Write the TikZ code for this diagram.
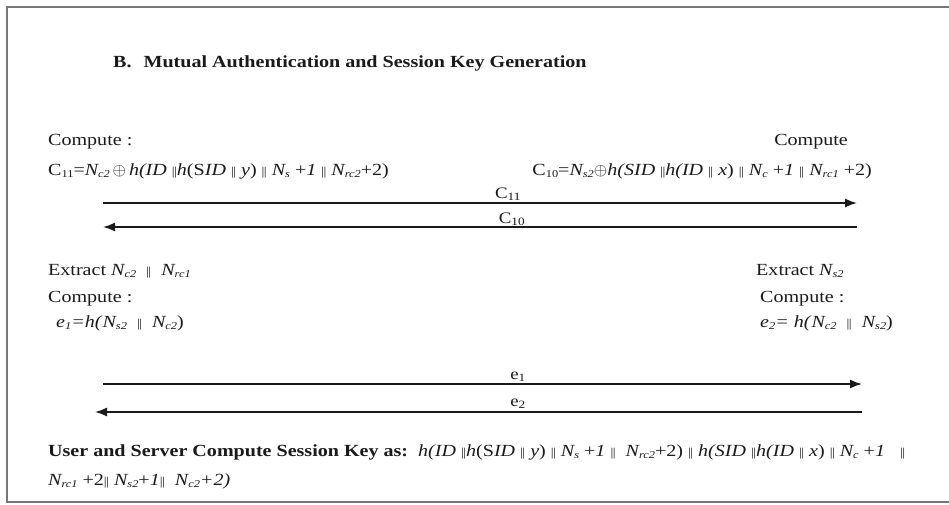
\documentclass[tikz,border=0pt]{standalone}
\usepackage{fontspec}
\setmainfont[FakeStretch=1.18]{Liberation Serif}
\usepackage{xcolor}
\usetikzlibrary{positioning,arrows.meta}

\definecolor{ink}{HTML}{1A1A1A}
\definecolor{frame}{HTML}{777777}
\newcommand{\lowx}[1]{\raisebox{-2.5pt}{\fontsize{10.5}{10.5}\selectfont #1}}
\newcommand{\Nx}[1]{\textit{N\lowx{#1}}}
\newcommand{\dbar}{{\fontsize{12}{12}\selectfont\textbar\kern-0.6pt\textbar}}

\begin{document}
\begin{tikzpicture}[x=1pt, y=-1pt,
    txt/.style={anchor=base west, inner sep=0pt, text=ink, font=\fontsize{17}{19}\selectfont},
    rtxt/.style={txt, anchor=base east},
    lbl/.style={anchor=base, inner sep=0pt, text=ink, font=\fontsize{16}{18}\selectfont},
    msg/.style={draw=ink, line width=1.6pt, -{Latex[length=12pt,width=9pt]}}]
    \useasboundingbox (0,0) rectangle (949,504);
    \draw[frame, line width=1.2pt] (949,7) -- (7,7) -- (7,502) -- (949,502);

    \node[txt, font=\bfseries\fontsize{17}{19}\selectfont] (title) at (113,67) {B.\hspace{12pt}Mutual Authentication and Session Key Generation};

    \node[txt] (ucomp) at (48,145) {Compute :};
    \node[txt] (uc11) at (48,175) {C\lowx{11}=\Nx{c2}\,$\oplus$\,\textit{h(ID} \dbar\textit{h}(S\textit{ID} \dbar\ \textit{y}) \dbar\ \Nx{s} +\textit{1} \dbar\ \Nx{rc2}+2)};
    \node[rtxt] (scomp) at (848,145) {Compute};
    \node[rtxt] (sc10) at (872,175) {C\lowx{10}=\Nx{s2}$\oplus$\textit{h(SID} \dbar\textit{h(ID} \dbar\ \textit{x}) \dbar\ \Nx{c} +\textit{1} \dbar\ \Nx{rc1} +2)};

    \coordinate (m1s) at (103,203);
    \coordinate (m1e) at (857,203);
    \coordinate (m2s) at (857,227);
    \coordinate (m2e) at (103,227);
    \draw[msg] (m1s) -- (m1e);
    \draw[msg] (m2s) -- (m2e);
    \node[lbl] (lc11) at (508,198) {C\textsubscript{11}};
    \node[lbl] (lc10) at (512,223) {C\textsubscript{10}};

    \node[txt] (uext) at (48,275) {Extract \Nx{c2} \ \dbar\ \ \Nx{rc1}};
    \node[txt] (ucomp2) at (48,302) {Compute :};
    \node[txt] (ue1) at (56,327) {\textit{e\lowx{1}=h(}\Nx{s2} \ \dbar\ \ \Nx{c2})};
    \node[txt] (sext) at (756,275) {Extract \Nx{s2}};
    \node[txt] (scomp2) at (760,302) {Compute :};
    \node[txt] (se2) at (760,327) {\textit{e\lowx{2}= h(}\Nx{c2} \ \dbar\ \ \Nx{s2})};

    \coordinate (m3s) at (103,384);
    \coordinate (m3e) at (862,384);
    \coordinate (m4s) at (862,412);
    \coordinate (m4e) at (95,412);
    \draw[msg] (m3s) -- (m3e);
    \draw[msg] (m4s) -- (m4e);
    \node[lbl] (le1) at (518,379) {e\textsubscript{1}};
    \node[lbl] (le2) at (518,406) {e\textsubscript{2}};

    \node[txt] (key1) at (48,456) {\textbf{User and Server Compute Session Key as:}\ \ \textit{h(ID} \dbar\textit{h}(S\textit{ID} \dbar\ \textit{y}) \dbar\ \Nx{s} +\textit{1} \dbar\ \ \Nx{rc2}+2) \dbar\ \textit{h(SID} \dbar\textit{h(ID} \dbar\ \textit{x}) \dbar\ \Nx{c} +\textit{1} \ \ \dbar};
    \node[txt] (key2) at (48,485) {\Nx{rc1} +2\dbar\ \Nx{s2}+\textit{1}\dbar\ \ \Nx{c2}\textit{+2)}};
\end{tikzpicture}
\end{document}
